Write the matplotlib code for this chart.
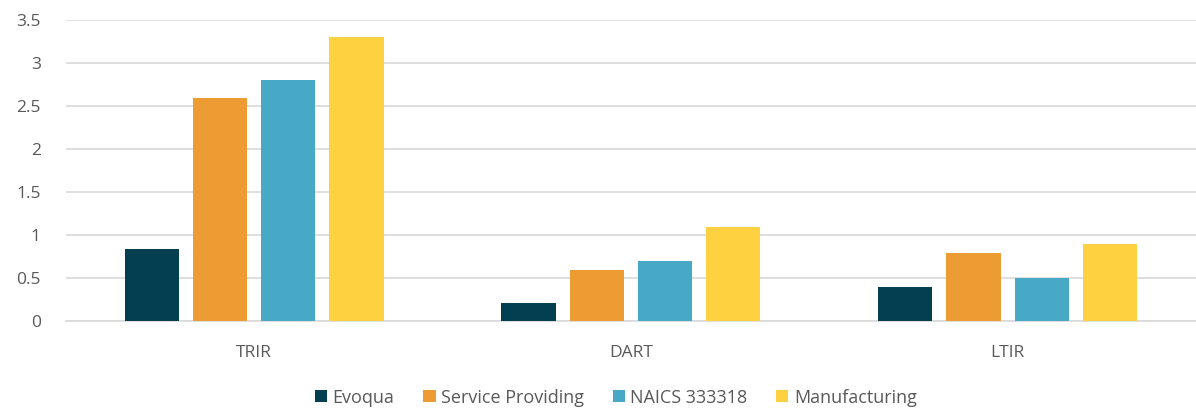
import numpy as np
import matplotlib.pyplot as plt

plt.rcParams['font.family'] = ['Open Sans', 'DejaVu Sans']

# Data
categories = ['TRIR', 'DART', 'LTIR']
series = ['Evoqua', 'Service Providing', 'NAICS 333318', 'Manufacturing']
evoqua = [0.84, 0.21, 0.40]
service = [2.6, 0.6, 0.8]
naics = [2.8, 0.7, 0.5]
manufacturing = [3.3, 1.1, 0.9]
colors = ['#023F51', '#EC9C33', '#47A9C5', '#FDD140']

fig = plt.figure(figsize=(11.96, 4.09), dpi=100)
ax = fig.add_axes([0.055, 0.214, 0.945, 0.737])

x = np.arange(len(categories))
width = 0.144
step = 0.181
for i, (vals, name) in enumerate(zip([evoqua, service, naics, manufacturing], series)):
    ax.bar(x + (i - 1.5) * step, vals, width, color=colors[i], label=name, zorder=3)

ax.set_xlim(-0.5, 2.5)
ax.set_ylim(0, 3.5)
ax.set_yticks(np.arange(0, 3.51, 0.5))
ax.set_yticklabels(['0', '0.5', '1', '1.5', '2', '2.5', '3', '3.5'])
ax.set_xticks(x)
ax.set_xticklabels(categories)
ax.yaxis.grid(True, color='#D9D9D9', linewidth=1.2, zorder=0)
ax.set_axisbelow(True)
for s in ['top', 'right', 'left']:
    ax.spines[s].set_visible(False)
ax.spines['bottom'].set_color('#D9D9D9')
ax.spines['bottom'].set_linewidth(1.2)
ax.tick_params(axis='both', length=0, labelsize=12.5, colors='#595959')
ax.tick_params(axis='y', pad=18)
ax.tick_params(axis='x', pad=17)

fig.legend(loc='center', bbox_to_anchor=(0.515, 0.028), ncol=4, frameon=False,
           fontsize=13, labelcolor='#595959', handlelength=0.67, handleheight=0.67,
           handletextpad=0.3, columnspacing=1.6)

fig.savefig('out.png', dpi=100)
